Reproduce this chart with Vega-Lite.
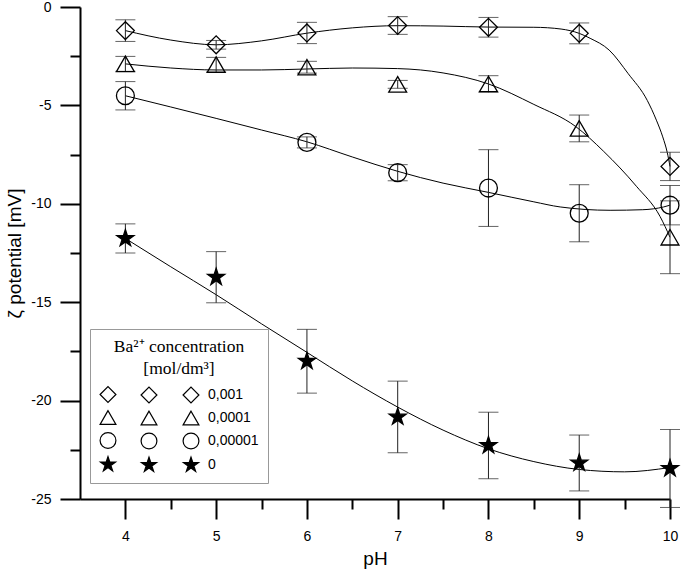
{
  "$schema": "https://vega.github.io/schema/vega-lite/v6.json",
  "width": 590,
  "height": 492,
  "autosize": {"type": "none"},
  "padding": {"left": 80, "top": 7, "right": 15, "bottom": 74},
  "config": {"view": {"stroke": null}, "font": "Liberation Sans"},
  "datasets": {
    "points": [
      {"series": "0,001", "pH": 4, "zeta": -1.2, "err": 0.55},
      {"series": "0,001", "pH": 5, "zeta": -1.92, "err": 0.22},
      {"series": "0,001", "pH": 6, "zeta": -1.32, "err": 0.54},
      {"series": "0,001", "pH": 7, "zeta": -0.94, "err": 0.45},
      {"series": "0,001", "pH": 8, "zeta": -1.03, "err": 0.5},
      {"series": "0,001", "pH": 9, "zeta": -1.34, "err": 0.53},
      {"series": "0,001", "pH": 10, "zeta": -8.1, "err": 0.72},
      {"series": "0,0001", "pH": 4, "zeta": -2.89, "err": 0.38},
      {"series": "0,0001", "pH": 5, "zeta": -2.93, "err": 0.37},
      {"series": "0,0001", "pH": 6, "zeta": -3.06, "err": 0.3},
      {"series": "0,0001", "pH": 7, "zeta": -3.93, "err": 0.2},
      {"series": "0,0001", "pH": 8, "zeta": -3.91, "err": 0.42},
      {"series": "0,0001", "pH": 9, "zeta": -6.17, "err": 0.68},
      {"series": "0,0001", "pH": 10, "zeta": -11.7, "err": 1.85},
      {"series": "0,00001", "pH": 4, "zeta": -4.51, "err": 0.72},
      {"series": "0,00001", "pH": 6, "zeta": -6.88, "err": 0.28},
      {"series": "0,00001", "pH": 7, "zeta": -8.42, "err": 0.41},
      {"series": "0,00001", "pH": 8, "zeta": -9.2, "err": 1.95},
      {"series": "0,00001", "pH": 9, "zeta": -10.48, "err": 1.45},
      {"series": "0,00001", "pH": 10, "zeta": -10.07, "err": 1.0},
      {"series": "0", "pH": 4, "zeta": -11.76, "err": 0.74},
      {"series": "0", "pH": 5, "zeta": -13.73, "err": 1.3},
      {"series": "0", "pH": 6, "zeta": -18.0, "err": 1.62},
      {"series": "0", "pH": 7, "zeta": -20.83, "err": 1.82},
      {"series": "0", "pH": 8, "zeta": -22.28, "err": 1.69},
      {"series": "0", "pH": 9, "zeta": -23.17, "err": 1.42},
      {"series": "0", "pH": 10, "zeta": -23.45, "err": 1.98}
    ],
    "curves": [
      {"series": "0,001", "pH": 4, "zeta": -1.2},
      {"series": "0,001", "pH": 4.5, "zeta": -1.68},
      {"series": "0,001", "pH": 5, "zeta": -1.92},
      {"series": "0,001", "pH": 5.5, "zeta": -1.72},
      {"series": "0,001", "pH": 6, "zeta": -1.33},
      {"series": "0,001", "pH": 6.5, "zeta": -1.06},
      {"series": "0,001", "pH": 7, "zeta": -0.95},
      {"series": "0,001", "pH": 7.5, "zeta": -0.97},
      {"series": "0,001", "pH": 8, "zeta": -1.02},
      {"series": "0,001", "pH": 8.5, "zeta": -1.03},
      {"series": "0,001", "pH": 8.8, "zeta": -1.12},
      {"series": "0,001", "pH": 9, "zeta": -1.34},
      {"series": "0,001", "pH": 9.12, "zeta": -1.59},
      {"series": "0,001", "pH": 9.33, "zeta": -2.19},
      {"series": "0,001", "pH": 9.54, "zeta": -3.39},
      {"series": "0,001", "pH": 9.75, "zeta": -4.75},
      {"series": "0,001", "pH": 9.85, "zeta": -5.75},
      {"series": "0,001", "pH": 9.92, "zeta": -6.6},
      {"series": "0,001", "pH": 9.97, "zeta": -7.4},
      {"series": "0,001", "pH": 10, "zeta": -8.1},
      {"series": "0,0001", "pH": 4, "zeta": -2.89},
      {"series": "0,0001", "pH": 4.5, "zeta": -3.1},
      {"series": "0,0001", "pH": 5, "zeta": -3.2},
      {"series": "0,0001", "pH": 5.5, "zeta": -3.2},
      {"series": "0,0001", "pH": 6, "zeta": -3.15},
      {"series": "0,0001", "pH": 6.5, "zeta": -3.1},
      {"series": "0,0001", "pH": 7, "zeta": -3.13},
      {"series": "0,0001", "pH": 7.5, "zeta": -3.35},
      {"series": "0,0001", "pH": 8, "zeta": -3.91},
      {"series": "0,0001", "pH": 8.5, "zeta": -4.95},
      {"series": "0,0001", "pH": 8.96, "zeta": -6.07},
      {"series": "0,0001", "pH": 9.27, "zeta": -7.34},
      {"series": "0,0001", "pH": 9.63, "zeta": -9.11},
      {"series": "0,0001", "pH": 9.89, "zeta": -10.64},
      {"series": "0,0001", "pH": 10, "zeta": -11.7},
      {"series": "0,00001", "pH": 4, "zeta": -4.51},
      {"series": "0,00001", "pH": 4.5, "zeta": -5.08},
      {"series": "0,00001", "pH": 5, "zeta": -5.66},
      {"series": "0,00001", "pH": 5.5, "zeta": -6.25},
      {"series": "0,00001", "pH": 6, "zeta": -6.85},
      {"series": "0,00001", "pH": 6.5, "zeta": -7.62},
      {"series": "0,00001", "pH": 7, "zeta": -8.35},
      {"series": "0,00001", "pH": 7.5, "zeta": -8.95},
      {"series": "0,00001", "pH": 8, "zeta": -9.42},
      {"series": "0,00001", "pH": 8.5, "zeta": -9.9},
      {"series": "0,00001", "pH": 8.79, "zeta": -10.16},
      {"series": "0,00001", "pH": 9.34, "zeta": -10.33},
      {"series": "0,00001", "pH": 9.7, "zeta": -10.3},
      {"series": "0,00001", "pH": 9.93, "zeta": -10.16},
      {"series": "0,00001", "pH": 10, "zeta": -10.07},
      {"series": "0", "pH": 4, "zeta": -11.76},
      {"series": "0", "pH": 4.5, "zeta": -13.2},
      {"series": "0", "pH": 5, "zeta": -14.62},
      {"series": "0", "pH": 5.5, "zeta": -16.1},
      {"series": "0", "pH": 6, "zeta": -17.55},
      {"series": "0", "pH": 6.5, "zeta": -19.0},
      {"series": "0", "pH": 7, "zeta": -20.33},
      {"series": "0", "pH": 7.5, "zeta": -21.5},
      {"series": "0", "pH": 8, "zeta": -22.45},
      {"series": "0", "pH": 8.5, "zeta": -23.1},
      {"series": "0", "pH": 9, "zeta": -23.5},
      {"series": "0", "pH": 9.5, "zeta": -23.62},
      {"series": "0", "pH": 10, "zeta": -23.4}
    ]
  },
  "encoding": {
    "x": {
      "field": "pH", "type": "quantitative",
      "scale": {"domain": [3.5, 10], "nice": false, "zero": false},
      "axis": {
        "title": "pH",
        "values": [4, 4.5, 5, 5.5, 6, 6.5, 7, 7.5, 8, 8.5, 9, 9.5, 10],
        "labelExpr": "datum.value % 1 === 0 ? '' + datum.value : ''",
        "tickSize": {"condition": {"test": "datum.value % 1 === 0", "value": 20}, "value": 10},
        "tickWidth": 2, "tickColor": "black",
        "domainColor": "black", "domainWidth": 2,
        "labelFont": "Liberation Sans", "labelFontSize": 14, "labelColor": "black", "labelPadding": 10, "labelFlush": false,
        "titleFont": "Liberation Sans", "titleFontSize": 19, "titleFontWeight": "normal", "titleColor": "black", "titlePadding": 6,
        "grid": false
      }
    },
    "y": {
      "field": "zeta", "type": "quantitative",
      "scale": {"domain": [-25, 0], "nice": false, "zero": false},
      "axis": {
        "title": "ζ potential [mV]",
        "values": [0, -2.5, -5, -7.5, -10, -12.5, -15, -17.5, -20, -22.5, -25],
        "labelExpr": "datum.value % 5 === 0 ? '' + datum.value : ''",
        "tickSize": {"condition": {"test": "datum.value % 5 === 0", "value": 20}, "value": 10},
        "tickWidth": 2, "tickColor": "black",
        "domainColor": "black", "domainWidth": 2,
        "labelFont": "Liberation Sans", "labelFontSize": 14, "labelColor": "black", "labelPadding": 9,
        "titleFont": "Liberation Sans", "titleFontSize": 19, "titleFontWeight": "normal", "titleColor": "black", "titlePadding": 6,
        "grid": false
      }
    }
  },
  "layer": [
    {
      "data": {"name": "curves"},
      "mark": {"type": "line", "interpolate": "monotone", "color": "black", "strokeWidth": 1},
      "encoding": {"detail": {"field": "series", "type": "nominal"}}
    },
    {
      "data": {"name": "points"},
      "mark": {"type": "errorbar", "ticks": {"size": 20}, "color": "#222", "thickness": 1},
      "encoding": {"yError": {"field": "err"}}
    },
    {
      "data": {"name": "points"},
      "mark": {"type": "point", "filled": false, "strokeWidth": 1.3, "size": 320, "opacity": 1},
      "encoding": {
        "shape": {
          "field": "series", "type": "nominal",
          "scale": {"domain": ["0,001", "0,0001", "0,00001", "0"], "range": ["diamond", "triangle-up", "circle", "M0,-1L0.2245,-0.309L0.951,-0.309L0.363,0.118L0.588,0.809L0,0.382L-0.588,0.809L-0.363,0.118L-0.951,-0.309L-0.2245,-0.309Z"]},
          "legend": {
            "title": ["Ba²⁺ concentration", "[mol/dm³]"],
            "orient": "none", "legendX": 10, "legendY": 322,
            "titleFont": "Liberation Serif", "titleFontSize": 17.5, "titleFontWeight": "normal", "titleColor": "black",
            "titleAnchor": "middle", "titleLineHeight": 22, "titlePadding": 8,
            "labelFont": "Liberation Sans", "labelFontSize": 14, "labelColor": "black", "labelOffset": 91,
            "symbolSize": 250, "symbolStrokeWidth": 1.2,
            "rowPadding": 2, "padding": 9, "strokeColor": "#999",
            "encode": {"legend": {"strokeDash": {"value": [1, 1]}}}
          }
        },
        "fill": {
          "field": "series", "type": "nominal",
          "scale": {"domain": ["0,001", "0,0001", "0,00001", "0"], "range": ["transparent", "transparent", "transparent", "black"]},
          "legend": {
            "title": ["Ba²⁺ concentration", "[mol/dm³]"],
            "orient": "none", "legendX": 10, "legendY": 322,
            "titleFont": "Liberation Serif", "titleFontSize": 17.5, "titleFontWeight": "normal", "titleColor": "black",
            "titleAnchor": "middle", "titleLineHeight": 22, "titlePadding": 8,
            "labelFont": "Liberation Sans", "labelFontSize": 14, "labelColor": "black", "labelOffset": 91,
            "symbolSize": 250, "symbolStrokeWidth": 1.2,
            "rowPadding": 2, "padding": 9, "strokeColor": "#999",
            "encode": {"legend": {"strokeDash": {"value": [1, 1]}}}
          }
        },
        "stroke": {
          "field": "series", "type": "nominal",
          "scale": {"domain": ["0,001", "0,0001", "0,00001", "0"], "range": ["black", "black", "black", "black"]},
          "legend": {
            "title": ["Ba²⁺ concentration", "[mol/dm³]"],
            "orient": "none", "legendX": 10, "legendY": 322,
            "titleFont": "Liberation Serif", "titleFontSize": 17.5, "titleFontWeight": "normal", "titleColor": "black",
            "titleAnchor": "middle", "titleLineHeight": 22, "titlePadding": 8,
            "labelFont": "Liberation Sans", "labelFontSize": 14, "labelColor": "black", "labelOffset": 91,
            "symbolSize": 250, "symbolStrokeWidth": 1.2,
            "rowPadding": 2, "padding": 9, "strokeColor": "#999",
            "encode": {"legend": {"strokeDash": {"value": [1, 1]}}}
          }
        }
      }
    },
    {
      "data": {"name": "points"},
      "transform": [{"filter": "false"}],
      "mark": {"type": "point", "filled": false, "strokeWidth": 1.3, "size": 320, "opacity": 1},
      "encoding": {
        "shape": {
          "field": "series", "type": "nominal",
          "scale": {"domain": ["0,001", "0,0001", "0,00001", "0"], "range": ["diamond", "triangle-up", "circle", "M0,-1L0.2245,-0.309L0.951,-0.309L0.363,0.118L0.588,0.809L0,0.382L-0.588,0.809L-0.363,0.118L-0.951,-0.309L-0.2245,-0.309Z"]},
          "legend": {
            "title": null, "orient": "none", "legendX": 51, "legendY": 370,
            "labelExpr": "''", "labelFontSize": 14, "labelOffset": 0,
            "symbolSize": 250, "symbolStrokeWidth": 1.2, "rowPadding": 2, "padding": 9
          }
        },
        "fill": {
          "field": "series", "type": "nominal",
          "scale": {"domain": ["0,001", "0,0001", "0,00001", "0"], "range": ["transparent", "transparent", "transparent", "black"]},
          "legend": {
            "title": null, "orient": "none", "legendX": 51, "legendY": 370,
            "labelExpr": "''", "labelFontSize": 14, "labelOffset": 0,
            "symbolSize": 250, "symbolStrokeWidth": 1.2, "rowPadding": 2, "padding": 9
          }
        },
        "stroke": {
          "field": "series", "type": "nominal",
          "scale": {"domain": ["0,001", "0,0001", "0,00001", "0"], "range": ["black", "black", "black", "black"]},
          "legend": {
            "title": null, "orient": "none", "legendX": 51, "legendY": 370,
            "labelExpr": "''", "labelFontSize": 14, "labelOffset": 0,
            "symbolSize": 250, "symbolStrokeWidth": 1.2, "rowPadding": 2, "padding": 9
          }
        }
      }
    },
    {
      "data": {"name": "points"},
      "transform": [{"filter": "false"}],
      "mark": {"type": "point", "filled": false, "strokeWidth": 1.3, "size": 320, "opacity": 1},
      "encoding": {
        "shape": {
          "field": "series", "type": "nominal",
          "scale": {"domain": ["0,001", "0,0001", "0,00001", "0"], "range": ["diamond", "triangle-up", "circle", "M0,-1L0.2245,-0.309L0.951,-0.309L0.363,0.118L0.588,0.809L0,0.382L-0.588,0.809L-0.363,0.118L-0.951,-0.309L-0.2245,-0.309Z"]},
          "legend": {
            "title": null, "orient": "none", "legendX": 93, "legendY": 370,
            "labelExpr": "''", "labelFontSize": 14, "labelOffset": 0,
            "symbolSize": 250, "symbolStrokeWidth": 1.2, "rowPadding": 2, "padding": 9
          }
        },
        "fill": {
          "field": "series", "type": "nominal",
          "scale": {"domain": ["0,001", "0,0001", "0,00001", "0"], "range": ["transparent", "transparent", "transparent", "black"]},
          "legend": {
            "title": null, "orient": "none", "legendX": 93, "legendY": 370,
            "labelExpr": "''", "labelFontSize": 14, "labelOffset": 0,
            "symbolSize": 250, "symbolStrokeWidth": 1.2, "rowPadding": 2, "padding": 9
          }
        },
        "stroke": {
          "field": "series", "type": "nominal",
          "scale": {"domain": ["0,001", "0,0001", "0,00001", "0"], "range": ["black", "black", "black", "black"]},
          "legend": {
            "title": null, "orient": "none", "legendX": 93, "legendY": 370,
            "labelExpr": "''", "labelFontSize": 14, "labelOffset": 0,
            "symbolSize": 250, "symbolStrokeWidth": 1.2, "rowPadding": 2, "padding": 9
          }
        }
      }
    }
  ],
  "resolve": {
    "scale": {"shape": "independent", "fill": "independent", "stroke": "independent"},
    "legend": {"shape": "independent", "fill": "independent", "stroke": "independent"}
  }
}
